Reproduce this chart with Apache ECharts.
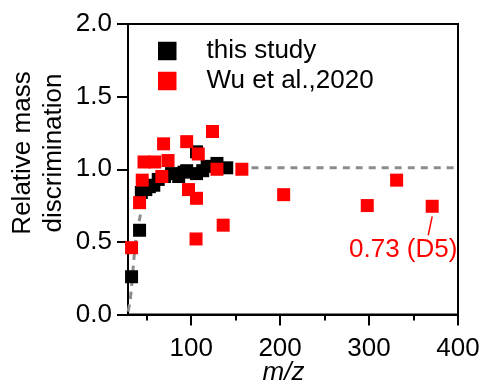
<!DOCTYPE html>
<html>
<head>
<meta charset="utf-8">
<script src="https://cdn.jsdelivr.net/npm/echarts@6/dist/echarts.min.js"></script>
<style>
html,body{margin:0;padding:0;background:#fff;}
#c{width:482px;height:385px;}
</style>
</head>
<body>
<div id="c"></div>
<script>
// ---- data ----
var seriesNames = ['this study', 'Wu et al.,2020'];
var thisStudy = [
  [33, 0.26], [42, 0.58], [44, 0.84], [49, 0.86], [53, 0.88], [58, 0.89],
  [63, 0.93], [70, 0.95], [78, 0.97], [86, 0.95], [92, 0.98], [95, 0.99],
  [106, 1.12], [106, 0.97], [113, 0.99], [118, 1.02], [129, 1.04], [140, 1.01]
];
var wu2020 = [
  [33, 0.46], [42, 0.77], [45, 0.925], [47, 1.05], [59, 1.05], [67, 0.95],
  [69, 1.175], [74, 1.06], [95, 1.19], [97, 0.86], [106, 0.80], [108, 1.105],
  [105.5, 0.52], [124, 1.26], [129, 1.0], [136, 0.615], [157, 1.0],
  [204, 0.825], [298, 0.75], [331, 0.925], [371, 0.745]
];
var fitCurve = [
  [29, 0.02], [31, 0.08], [33, 0.19], [35.6, 0.38], [38, 0.52], [42.4, 0.67],
  [47, 0.78], [54, 0.87], [62, 0.93], [72, 0.97], [85, 0.99], [100, 1.0],
  [130, 1.01], [400, 1.01]
];
var xMajorTicks = [100, 200, 300, 400];
var xMinorTicks = [50, 150, 250, 350];
var annotation = { point: [371, 0.745], text: '0.73 (D5)' };

var FONT = '"Liberation Sans", Arial, sans-serif';
var chart = echarts.init(document.getElementById('c'), null, {renderer: 'canvas'});

var xBase = {
  type: 'value', min: 29, max: 400, gridIndex: 0,
  splitLine: {show: false},
  axisLine: {show: true, lineStyle: {color: '#000', width: 2}}
};

var option = {
  animation: false,
  backgroundColor: '#fff',
  grid: {left: 128, top: 24, right: 24, bottom: 70.5, containLabel: false, outerBoundsMode: 'none',
    show: true, borderColor: '#000', borderWidth: 2, backgroundColor: 'transparent'},
  legend: {
    data: seriesNames,
    orient: 'vertical',
    left: 158, top: 38, padding: 0,
    itemWidth: 18.5, itemHeight: 18.5, itemGap: 4,
    icon: 'rect',
    textStyle: {fontFamily: FONT, fontSize: 26, color: '#000', padding: [0, 0, 0, 25]}
  },
  xAxis: [
    Object.assign({}, xBase, {
      position: 'bottom',
      name: 'm/z', nameLocation: 'middle', nameGap: 45, nameMoveOverlap: false,
      nameTextStyle: {fontFamily: FONT, fontSize: 26, fontStyle: 'italic', color: '#000', padding: [0, 19, 0, 0]},
      axisTick: {show: true, length: 11, lineStyle: {color: '#000', width: 2}, customValues: xMajorTicks},
      axisLabel: {fontFamily: FONT, fontSize: 26, color: '#000', margin: 21, customValues: xMajorTicks}
    }),
    Object.assign({}, xBase, {
      position: 'bottom',
      axisTick: {show: true, length: 6, lineStyle: {color: '#000', width: 2}, customValues: xMinorTicks},
      axisLabel: {show: false}
    })
  ],
  yAxis: {
    type: 'value', min: 0, max: 2, interval: 0.5,
    splitLine: {show: false},
    axisLine: {show: true, lineStyle: {color: '#000', width: 2}},
    axisTick: {show: true, length: 11, lineStyle: {color: '#000', width: 2}},
    axisLabel: {fontFamily: FONT, fontSize: 26, color: '#000', margin: 16,
      formatter: function (v) { return v.toFixed(1); }}
  },
  series: [
    {
      type: 'line', data: fitCurve, smooth: 0.3, symbol: 'none', silent: true,
      lineStyle: {color: '#8c8c8c', width: 3, type: [7, 6]}, z: 1
    },
    {
      name: seriesNames[0], type: 'scatter', data: thisStudy,
      symbol: 'rect', symbolSize: 13, itemStyle: {color: '#000', opacity: 1}, z: 2
    },
    {
      name: seriesNames[1], type: 'scatter', data: wu2020,
      symbol: 'rect', symbolSize: 13, itemStyle: {color: '#ff0000', opacity: 1}, z: 3
    }
  ]
};
chart.setOption(option);

// annotation tied to the data point
var p = chart.convertToPixel({xAxisIndex: 0, yAxisIndex: 0}, annotation.point);
chart.setOption({
  graphic: [
    {type: 'line', shape: {x1: p[0], y1: p[1] + 10, x2: p[0] - 4, y2: p[1] + 29},
     style: {stroke: '#ff0000', lineWidth: 1.5}, z: 10},
    {type: 'text', x: p[0] - 29, y: p[1] + 44,
     style: {text: annotation.text, fontFamily: FONT, fontSize: 26, fill: '#ff0000',
       textAlign: 'center', textVerticalAlign: 'middle'}, z: 10},
    {type: 'text', x: 38, y: 153, rotation: Math.PI / 2,
     style: {text: 'Relative mass\ndiscrimination', fontFamily: FONT, fontSize: 26, fill: '#000',
       lineHeight: 31, textAlign: 'center', textVerticalAlign: 'middle'}}
  ]
});
</script>
</body>
</html>
